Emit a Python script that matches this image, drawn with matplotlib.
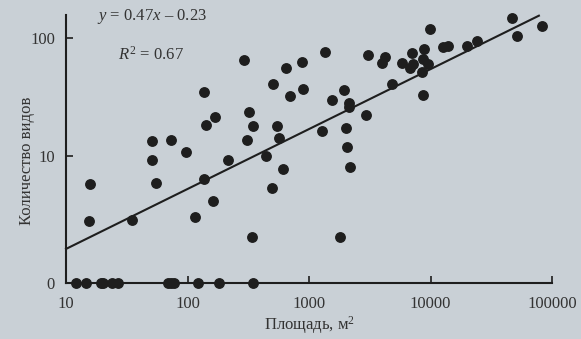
import numpy as np
import matplotlib
matplotlib.use("Agg")
import matplotlib.pyplot as plt
from matplotlib.ticker import NullLocator, FixedLocator, FixedFormatter

plt.rcParams['font.family'] = ['Liberation Serif', 'DejaVu Serif']
plt.rcParams['mathtext.fontset'] = 'custom'
plt.rcParams['mathtext.rm'] = 'Liberation Serif'
plt.rcParams['mathtext.it'] = 'Liberation Serif:italic'

# площадь участка (м2) и число видов
area = [15.8, 15.5, 34.9, 51, 73, 51, 55, 97, 115, 137,
        168, 142, 137, 162, 215, 292, 321, 346, 309, 443,
        545, 567, 611, 495, 340, 505, 647, 698, 876, 892,
        1355, 1279, 1545, 1941, 2133, 2133, 2017, 2057, 2175, 1799,
        2944, 3060, 4225, 3993, 5823, 4820, 7047, 8851, 9915, 8677,
        9532, 7178, 6778, 8511, 8677, 12680, 13930, 19950, 24140, 46880,
        51520, 82780]
species = [5.5, 2.2, 2.3, 13.5, 13.8, 9.1, 5.6, 10.8, 2.5, 35.6,
           21.8, 18.6, 6.1, 3.7, 9.1, 65.8, 24.1, 18.3, 13.8, 9.9,
           18.3, 14.4, 7.6, 5.0, 1.4, 41.5, 56.5, 32.9, 63.4, 37.7,
           76.6, 16.5, 30.4, 37.0, 28.7, 26.6, 17.5, 12.0, 7.9, 1.4,
           22.7, 72.4, 69.7, 62.1, 62.1, 41.5, 75.2, 81.2, 118.9, 67.1,
           60.9, 60.9, 56.5, 52.3, 33.5, 84.3, 85.9, 85.9, 94.5, 146.5,
           104, 125.8]

# участки без видов
area_zero = [12.1, 14.6, 19.4, 20.2, 23.9, 26.8, 69.1, 73.1, 77.4, 122, 181, 346]
species_zero = [0] * len(area_zero)

# линия регрессии (концы)
line_area = [10, 78000]
line_species = [0.9, 153]

x_ticks = [10, 100, 1000, 10000, 100000]
y_ticks = [0, 10, 100]

bg = '#c9d0d6'
ink = '#1e1e1e'
txt = '#333333'


def fwd(v):
    return np.log10(np.clip(np.asarray(v, dtype=float) + 1, 1e-6, None))


def inv(v):
    return 10 ** np.asarray(v, dtype=float) - 1


fig = plt.figure(figsize=(5.81, 3.39), dpi=100, facecolor=bg)
ax = fig.add_axes([66 / 581, 56 / 339, 486 / 581, 268 / 339], facecolor=bg)

ax.set_xscale('log')
ax.set_yscale('function', functions=(fwd, inv))
ax.set_xlim(10, 100000)
ax.set_ylim(0, 155)

ax.plot(line_area, line_species, color=ink, lw=1.5, clip_on=False, zorder=2)
ax.plot(area, species, 'o', color=ink, ms=6.8, clip_on=False, zorder=3)
ax.plot(area_zero, species_zero, 'o', color=ink, ms=6.8, clip_on=False, zorder=3)

ax.xaxis.set_major_locator(FixedLocator(x_ticks))
ax.xaxis.set_major_formatter(FixedFormatter([str(t) for t in x_ticks]))
ax.xaxis.set_minor_locator(NullLocator())
ax.yaxis.set_major_locator(FixedLocator(y_ticks))
ax.yaxis.set_major_formatter(FixedFormatter([str(t) for t in y_ticks]))
ax.yaxis.set_minor_locator(NullLocator())

for s in ['top', 'right']:
    ax.spines[s].set_visible(False)
for s in ['left', 'bottom']:
    ax.spines[s].set_linewidth(1.5)
    ax.spines[s].set_color(ink)

ax.tick_params(axis='x', direction='in', length=5, width=1.2, pad=9,
               labelsize=12, colors=ink, labelcolor=txt)
ax.tick_params(axis='y', direction='in', length=5, width=1.2, pad=8,
               labelsize=12, colors=ink, labelcolor=txt)

ax.set_xlabel('Площадь, м$^2$', fontsize=12, color=txt)
ax.xaxis.set_label_coords(0.5, -0.158)
ax.xaxis.label.set_va('center')
ax.set_ylabel('Количество видов', fontsize=12, color=txt)
ax.yaxis.set_label_coords(-0.08, 0.455)
ax.yaxis.label.set_va('center')

fig.text(97 / 581, 1 - 17 / 339, '$y$ = 0.47$x$ – 0.23', fontsize=12,
         color=txt, va='center', ha='left')
fig.text(118 / 581, 1 - 55 / 339, '$R^2$ = 0.67', fontsize=12,
         color=txt, va='center', ha='left')

fig.savefig('out.png', dpi=100, facecolor=bg)
